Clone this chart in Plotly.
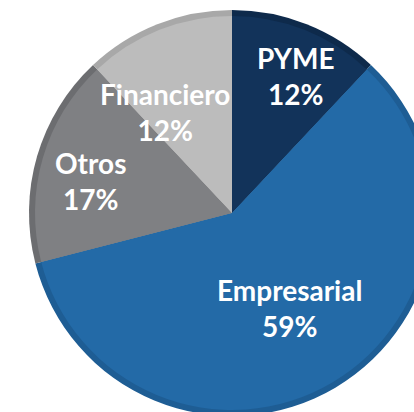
import math
import plotly.graph_objects as go

# Data
labels = ["PYME", "Empresarial", "Otros", "Financiero"]
values = [12, 59, 17, 12]

# Styles
face_colors = ["#12335a", "#236aa7", "#7f8083", "#bcbcbc"]
edge_colors = ["#0e2a4b", "#1e5d94", "#6c6d70", "#a8a8a8"]
label_angle_frac = [0.58, 0.498, 0.443, 0.222]   # position along each slice's arc
label_radius_frac = [0.745, 0.546, 0.717, 0.597]  # position along the radius

W, H = 440, 420
cx, cy, R = 232, 213, 203   # pixel centre / radius of the pie
bevel = 6

def domain(r):
    return dict(x=[(cx - r) / W, (cx + r) / W], y=[1 - (cy + r) / H, 1 - (cy - r) / H])

fig = go.Figure()
fig.add_trace(go.Pie(
    labels=labels, values=values, sort=False, direction="clockwise", rotation=0,
    marker=dict(colors=edge_colors, line=dict(width=0)),
    textinfo="none", hoverinfo="skip", showlegend=False, domain=domain(R),
))
fig.add_trace(go.Pie(
    labels=labels, values=values, sort=False, direction="clockwise", rotation=0,
    marker=dict(colors=face_colors, line=dict(width=0)),
    textinfo="none", showlegend=False, domain=domain(R - bevel),
))

total = sum(values)
start = 0.0
annotations = []
for lab, v, af, rf in zip(labels, values, label_angle_frac, label_radius_frac):
    ang = (start + v * af) / total * 2 * math.pi
    px = cx + rf * R * math.sin(ang)
    py = cy - rf * R * math.cos(ang)
    pct = round(v / total * 100)
    annotations.append(dict(
        x=px / W, y=1 - py / H, xref="paper", yref="paper",
        text=f"{lab}<br>{pct}%", showarrow=False, xanchor="center", yanchor="middle",
        font=dict(family="Lato", size=28, color="white", weight="bold"),
    ))
    start += v

fig.update_layout(
    width=W, height=H, margin=dict(l=0, r=0, t=0, b=0),
    paper_bgcolor="white", plot_bgcolor="white", annotations=annotations,
)

fig.write_html(
    "out.html",
    config={"displayModeBar": False},
    post_script="document.body.style.margin='0';document.body.style.overflow='hidden';"
                "document.documentElement.style.overflow='hidden';",
)
